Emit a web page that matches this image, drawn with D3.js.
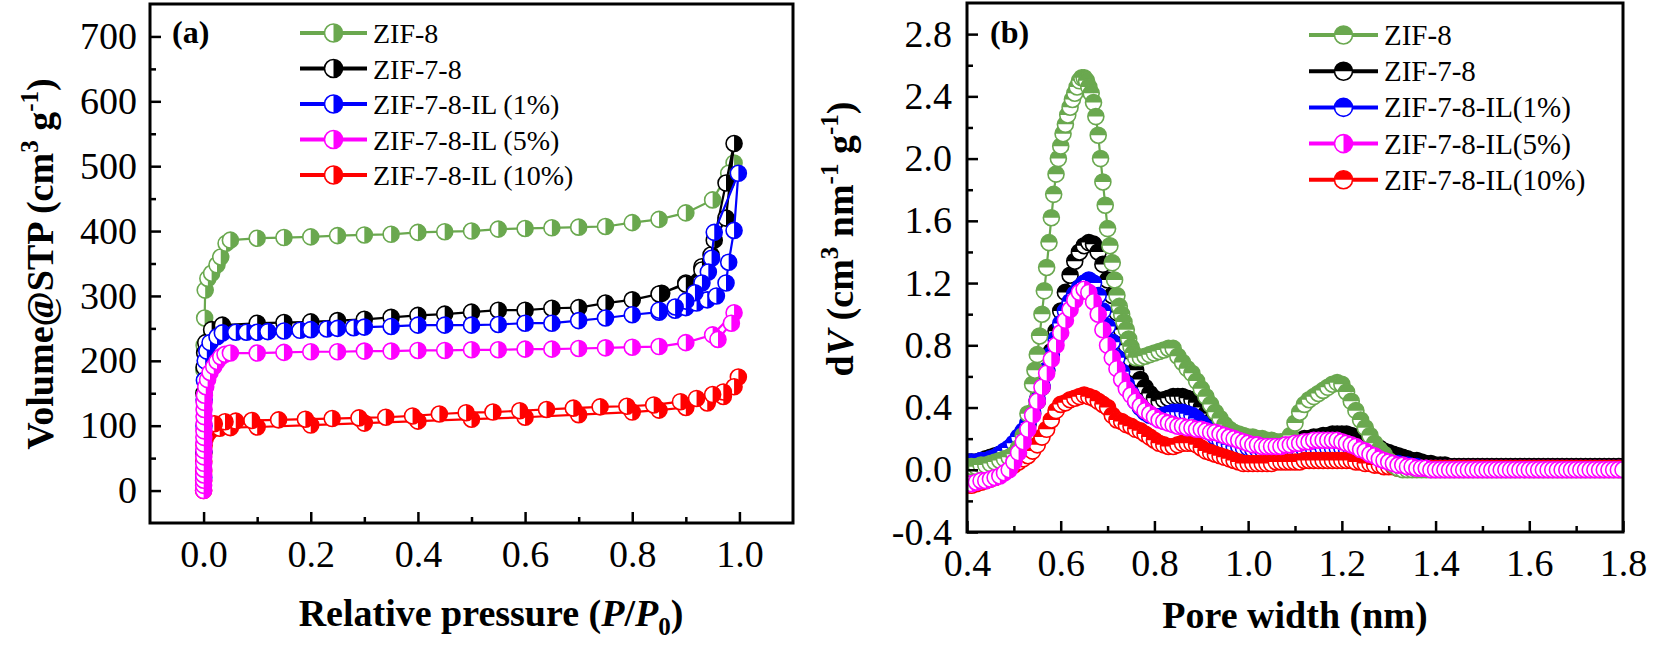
<!DOCTYPE html>
<html><head><meta charset="utf-8">
<script src="https://cdn.jsdelivr.net/npm/d3@7"></script>
<style>body{margin:0;background:#fff}svg text{font-family:"Liberation Serif","Times New Roman",serif;fill:#000}</style>
</head><body><svg id="c" width="1654" height="647"></svg>
<script>
// ---------------- DATA ----------------
const namesA = ["ZIF-8","ZIF-7-8","ZIF-7-8-IL (1%)","ZIF-7-8-IL (5%)","ZIF-7-8-IL (10%)"];
const namesB = ["ZIF-8","ZIF-7-8","ZIF-7-8-IL(1%)","ZIF-7-8-IL(5%)","ZIF-7-8-IL(10%)"];
const colors = ["#6aa84f","#000000","#0000ff","#ff00ff","#ff0000"];

const xTicksA = [0,0.2,0.4,0.6,0.8,1.0], xMinorA = [0.1,0.3,0.5,0.7,0.9];
const yTicksA = [0,100,200,300,400,500,600,700], yMinorA = [50,150,250,350,450,550,650];
const xTicksB = [0.4,0.6,0.8,1.0,1.2,1.4,1.6,1.8], xMinorB = [0.5,0.7,0.9,1.1,1.3,1.5,1.7];
const yTicksB = [-0.4,0,0.4,0.8,1.2,1.6,2.0,2.4,2.8], yMinorB = [-0.2,0.2,0.6,1.0,1.4,1.8,2.2,2.6];

// (a) N2 isotherms [P/P0, volume]
const isoZIF8 = [[0.0005,186],[0.001,224],[0.002,266],[0.003,309],[0.008,327],[0.015,335],[0.025,348],[0.032,360],[0.042,381],[0.05,386],[0.10,389],[0.15,390],[0.20,391],[0.25,393],[0.30,394],[0.35,395],[0.40,398],[0.45,399],[0.50,400],[0.55,403],[0.60,404],[0.65,405],[0.70,406],[0.75,407],[0.80,413],[0.85,418],[0.90,428],[0.95,448],[0.99,505],[0.98,489]];
const isoZIF78 = [[0.0005,150],[0.001,190],[0.002,212],[0.004,228],[0.015,248],[0.035,255],[0.10,258],[0.15,259],[0.20,260],[0.25,262],[0.30,264],[0.35,267],[0.40,270],[0.45,272],[0.50,275],[0.55,278],[0.60,278],[0.65,281],[0.70,282],[0.75,289],[0.80,294],[0.855,304],[0.90,320],[0.93,345],[0.947,363],[0.975,474],[0.99,535],[0.975,420],[0.953,386],[0.93,340],[0.90,318],[0.85,303]];
const isoIL1 = [[0.0003,20],[0.0005,60],[0.0008,100],[0.001,140],[0.0015,170],[0.003,200],[0.006,215],[0.012,228],[0.025,237],[0.035,243],[0.06,244],[0.08,244],[0.10,244],[0.12,245],[0.15,246],[0.18,247],[0.20,248],[0.23,249],[0.25,250],[0.28,251],[0.30,252],[0.35,253],[0.40,255],[0.45,255],[0.50,255],[0.55,256],[0.60,258],[0.65,258],[0.70,262],[0.75,266],[0.80,271],[0.85,275],[0.88,278],[0.90,282],[0.92,289],[0.94,294],[0.957,300],[0.975,320],[0.98,352],[0.99,401],[0.998,489],[0.953,398],[0.948,358],[0.942,337],[0.93,320],[0.917,305],[0.90,292],[0.88,283],[0.85,278]];
const isoIL5 = [[0.00005,0],[0.0001,8],[0.00015,16],[0.0002,24],[0.00025,33],[0.0003,42],[0.00035,52],[0.0004,62],[0.00045,72],[0.0005,82],[0.0006,92],[0.0007,103],[0.0008,114],[0.0009,125],[0.001,136],[0.0015,147],[0.004,160],[0.0075,171],[0.012,182],[0.019,191],[0.025,199],[0.032,206],[0.04,210],[0.05,212],[0.10,212],[0.15,213],[0.20,214],[0.25,214],[0.30,215],[0.35,215],[0.40,216],[0.45,216],[0.50,217],[0.55,217],[0.60,218],[0.65,218],[0.70,219],[0.75,220],[0.80,221],[0.85,222],[0.90,228],[0.95,240],[0.99,274],[0.985,258],[0.96,233]];
const isoIL10 = [[0.00005,0],[0.0001,15],[0.0002,30],[0.0003,45],[0.0005,58],[0.001,70],[0.003,80],[0.008,88],[0.015,94],[0.03,96],[0.05,97],[0.10,98],[0.20,101],[0.30,104],[0.40,107],[0.50,110],[0.60,113],[0.70,117],[0.80,121],[0.85,124],[0.90,128],[0.94,135],[0.97,145],[0.998,175],[0.99,160],[0.97,152],[0.95,148],[0.92,142],[0.89,137],[0.84,132],[0.79,130],[0.74,129],[0.69,127],[0.64,125],[0.59,123],[0.54,121],[0.49,120],[0.44,118],[0.39,115],[0.34,113],[0.29,112],[0.24,111],[0.19,110],[0.14,109],[0.09,108],[0.06,107],[0.04,106],[0.02,103]];

// (b) pore size distributions
const poreWidth = d3.range(141).map(i => +(0.40 + i * 0.01).toFixed(2));
const psdZIF8 = [[0.40,0.02],[0.41,0.02],[0.42,0.02],[0.43,0.03],[0.44,0.03],[0.45,0.04],[0.46,0.05],[0.47,0.06],[0.48,0.07],[0.49,0.08],[0.50,0.10],[0.51,0.14],[0.52,0.22],[0.53,0.36],
 [0.540,0.55],[0.545,0.64],[0.550,0.74],[0.555,0.86],[0.560,1.00],[0.565,1.15],[0.570,1.30],[0.575,1.46],[0.580,1.62],[0.585,1.77],[0.590,1.90],[0.595,2.00],[0.600,2.08],[0.605,2.16],[0.610,2.22],[0.615,2.28],[0.620,2.33],[0.625,2.38],[0.630,2.42],[0.635,2.46],[0.640,2.50],[0.645,2.52],[0.650,2.52],[0.655,2.50],[0.660,2.46],[0.665,2.42],[0.670,2.36],[0.675,2.27],[0.680,2.15],[0.685,2.00],[0.690,1.85],[0.695,1.70],[0.700,1.55],[0.705,1.44],[0.710,1.33],[0.715,1.22],[0.720,1.12],[0.725,1.05],[0.730,1.00],[0.735,0.95],[0.740,0.90],[0.745,0.84],[0.750,0.79],[0.755,0.75],[0.760,0.72],
 [0.77,0.72],[0.78,0.73],[0.79,0.74],[0.80,0.75],[0.81,0.76],[0.82,0.77],[0.83,0.78],[0.84,0.78],[0.85,0.73],[0.86,0.69],[0.87,0.65],[0.88,0.62],[0.89,0.57],[0.90,0.52],[0.91,0.47],[0.92,0.42],[0.93,0.37],[0.94,0.33],[0.95,0.29],[0.96,0.26],[0.97,0.24],[0.98,0.23],[0.99,0.22],[1.00,0.21],[1.01,0.21],[1.02,0.20],[1.03,0.20],[1.04,0.19],[1.05,0.19],[1.06,0.18],[1.07,0.18],[1.08,0.18],[1.09,0.22],[1.10,0.30],[1.11,0.37],[1.12,0.42],[1.13,0.45],[1.14,0.47],[1.15,0.49],[1.16,0.51],[1.17,0.53],[1.18,0.55],[1.19,0.56],[1.20,0.55],[1.21,0.50],[1.22,0.44],[1.23,0.38],[1.24,0.32],[1.25,0.27],[1.26,0.22],[1.27,0.17],[1.28,0.13],[1.29,0.10],[1.30,0.06],[1.31,0.03],[1.32,0.01],
 [1.33,0],[1.34,0],[1.35,0],[1.36,0],[1.37,0],[1.38,0],[1.39,0],[1.40,0],[1.41,0],[1.42,0],[1.43,0],[1.44,0],[1.45,0],[1.46,0],[1.47,0],[1.48,0],[1.49,0],[1.50,0],[1.51,0],[1.52,0],[1.53,0],[1.54,0],[1.55,0],[1.56,0],[1.57,0],[1.58,0],[1.59,0],[1.60,0],[1.61,0],[1.62,0],[1.63,0],[1.64,0],[1.65,0],[1.66,0],[1.67,0],[1.68,0],[1.69,0],[1.70,0],[1.71,0],[1.72,0],[1.73,0],[1.74,0],[1.75,0],[1.76,0],[1.77,0],[1.78,0],[1.79,0],[1.80,0]];
const psdZIF78 = [0.05,0.05,0.05,0.06,0.07,0.08,0.09,0.10,0.11,0.12,0.14,0.18,0.23,0.29,0.36,0.44,0.53,0.64,0.76,0.89,
 1.02,1.14,1.25,1.34,1.40,1.44,1.46,1.45,1.40,1.32,1.22,1.12,1.01,0.90,0.80,0.71,0.64,0.58,0.53,0.49,
 0.46,0.44,0.45,0.46,0.47,0.47,0.47,0.46,0.45,0.43,0.40,0.36,0.31,0.27,0.24,0.22,0.21,0.20,0.19,0.19,
 0.18,0.18,0.18,0.18,0.17,0.17,0.17,0.17,0.18,0.18,0.19,0.19,0.20,0.20,0.21,0.21,0.22,0.22,0.23,0.23,
 0.23,0.23,0.22,0.21,0.20,0.18,0.17,0.15,0.14,0.12,0.11,0.10,0.09,0.08,0.07,0.06,0.06,0.05,0.04,0.04,
 0.03,0.03,0.03,0.02,0.02,0.02,0.02,0.02,0.02,0.02,0.02,0.02,0.02,0.02,0.02,0.02,0.02,0.02,0.02,0.02,
 0.02,0.02,0.02,0.02,0.02,0.02,0.02,0.02,0.02,0.02,0.02,0.02,0.02,0.02,0.02,0.02,0.02,0.02,0.02,0.02,0.02];
const psdIL1 = [0.05,0.05,0.05,0.06,0.06,0.07,0.08,0.10,0.12,0.14,0.17,0.21,0.25,0.30,0.37,0.45,0.54,0.64,0.74,0.84,
 0.94,1.02,1.08,1.13,1.17,1.20,1.22,1.20,1.12,1.02,0.92,0.82,0.72,0.63,0.55,0.49,0.44,0.40,0.37,0.35,
 0.34,0.34,0.35,0.36,0.37,0.37,0.37,0.36,0.35,0.33,0.30,0.27,0.24,0.21,0.19,0.17,0.16,0.15,0.15,0.14,
 0.14,0.13,0.13,0.13,0.13,0.12,0.12,0.12,0.12,0.12,0.12,0.12,0.13,0.13,0.13,0.13,0.14,0.14,0.14,0.14,
 0.14,0.13,0.13,0.12,0.11,0.10,0.09,0.08,0.07,0.06,0.05,0.04,0.04,0.03,0.03,0.02,0.02,0.01,0.01,0.01,
 0.01,0.01,0.01,0.01,0.01,0.01,0.01,0.01,0.01,0.01,0.01,0.01,0.01,0.01,0.01,0.01,0.01,0.01,0.01,0.01,
 0.01,0.01,0.01,0.01,0.01,0.01,0.01,0.01,0.01,0.01,0.01,0.01,0.01,0.01,0.01,0.01,0.01,0.01,0.01,0.01,0.01];
const psdIL5 = [-0.09,-0.09,-0.08,-0.07,-0.07,-0.06,-0.05,-0.04,-0.02,0.00,0.05,0.11,0.18,0.26,0.35,0.44,0.53,0.62,0.71,0.80,
 0.88,0.96,1.03,1.09,1.14,1.16,1.14,1.08,1.00,0.90,0.80,0.72,0.65,0.58,0.52,0.48,0.44,0.41,0.38,0.36,
 0.34,0.32,0.31,0.30,0.29,0.28,0.28,0.27,0.27,0.26,0.26,0.25,0.24,0.24,0.23,0.22,0.21,0.20,0.19,0.18,
 0.17,0.16,0.16,0.15,0.15,0.15,0.15,0.15,0.16,0.16,0.17,0.17,0.18,0.18,0.19,0.19,0.19,0.19,0.19,0.19,
 0.18,0.17,0.16,0.15,0.13,0.12,0.10,0.09,0.07,0.06,0.05,0.04,0.03,0.03,0.02,0.02,0.01,0.01,0.01,0.00,
 0.00,0.00,0.00,0.00,0.00,0.00,0.00,0.00,0.00,0.00,0.00,0.00,0.00,0.00,0.00,0.00,0.00,0.00,0.00,0.00,
 0.00,0.00,0.00,0.00,0.00,0.00,0.00,0.00,0.00,0.00,0.00,0.00,0.00,0.00,0.00,0.00,0.00,0.00,0.00,0.00,0.00];
const psdIL10 = [-0.10,-0.10,-0.09,-0.08,-0.07,-0.06,-0.05,-0.03,-0.01,0.01,0.03,0.05,0.07,0.09,0.12,0.16,0.21,0.26,0.32,0.38,
 0.42,0.43,0.45,0.46,0.47,0.48,0.47,0.46,0.44,0.42,0.40,0.35,0.32,0.31,0.29,0.28,0.26,0.25,0.23,0.21,
 0.19,0.17,0.16,0.15,0.15,0.16,0.17,0.17,0.17,0.16,0.14,0.12,0.11,0.10,0.09,0.08,0.07,0.06,0.05,0.04,
 0.04,0.04,0.04,0.04,0.04,0.04,0.05,0.05,0.05,0.05,0.05,0.05,0.06,0.06,0.06,0.06,0.06,0.06,0.06,0.06,
 0.06,0.06,0.06,0.05,0.05,0.04,0.04,0.03,0.03,0.02,0.02,0.02,0.01,0.01,0.01,0.01,0.01,0.01,0.01,0.01,
 0.01,0.01,0.01,0.01,0.01,0.01,0.01,0.01,0.01,0.01,0.01,0.01,0.01,0.01,0.01,0.01,0.01,0.01,0.01,0.01,
 0.01,0.01,0.01,0.01,0.01,0.01,0.01,0.01,0.01,0.01,0.01,0.01,0.01,0.01,0.01,0.01,0.01,0.01,0.01,0.01,0.01];

// ---------------- DRAWING ----------------
const svg = d3.select("#c");
const R = 8;
function halfPath(r, side) {
  return side === "right" ? `M0,${-r}A${r},${r} 0 0 1 0,${r}Z` : `M${-r},0A${r},${r} 0 0 1 ${r},0Z`;
}
function marker(sel, color, side, r) {
  sel.append("circle").attr("r", r).attr("fill", "#fff");
  sel.append("path").attr("d", halfPath(r, side)).attr("fill", color);
  sel.append("circle").attr("r", r).attr("fill", "none").attr("stroke", color).attr("stroke-width", 1.6);
}
function drawSeries(g, pts, xs, ys, color, side) {
  const line = d3.line().x(d => xs(d[0])).y(d => ys(d[1]));
  g.append("path").attr("d", line(pts)).attr("fill", "none").attr("stroke", color).attr("stroke-width", 2.2);
  g.selectAll(null).data(pts).join("g")
    .attr("transform", d => `translate(${xs(d[0])},${ys(d[1])})`)
    .each(function () { marker(d3.select(this), color, side, R); });
}
function frame(g, xs, ys, xT, xM, yT, yM, fmtX, fmtY, padY) {
  const [x0, x1] = xs.range(), [y0, y1] = ys.range();
  g.append("g").attr("transform", `translate(0,${y0})`)
    .call(d3.axisBottom(xs).tickValues(xM).tickSize(-6).tickFormat(""));
  g.append("g").attr("transform", `translate(0,${y0})`)
    .call(d3.axisBottom(xs).tickValues(xT).tickSize(-11).tickPadding(17).tickFormat(fmtX));
  g.append("g").attr("transform", `translate(${x0},0)`)
    .call(d3.axisLeft(ys).tickValues(yM).tickSize(-6).tickFormat(""));
  g.append("g").attr("transform", `translate(${x0},0)`)
    .call(d3.axisLeft(ys).tickValues(yT).tickSize(-11).tickPadding(padY).tickFormat(fmtY));
  g.selectAll(".domain").remove();
  g.selectAll(".tick line").attr("stroke", "#000").attr("stroke-width", 2.5);
  g.selectAll(".tick text").attr("font-size", 38).attr("font-family", '"Liberation Serif",serif').attr("fill", "#000");
  g.append("rect").attr("x", x0).attr("y", y1).attr("width", x1 - x0).attr("height", y0 - y1)
    .attr("fill", "none").attr("stroke", "#000").attr("stroke-width", 3);
}
function legend(g, names, x1, x2, tx, y0, dy, sides, fs) {
  names.forEach((n, i) => {
    const y = y0 + i * dy;
    g.append("line").attr("x1", x1).attr("x2", x2).attr("y1", y).attr("y2", y)
      .attr("stroke", colors[i]).attr("stroke-width", 4);
    marker(g.append("g").attr("transform", `translate(${(x1 + x2) / 2},${y})`), colors[i], sides[i], 9);
    g.append("text").attr("x", tx).attr("y", y + 10).attr("font-size", fs).text(n);
  });
}
const fmt1 = d => d.toFixed(1);

// ---- Panel (a)
const xa = d3.scaleLinear().domain([-0.1, 1.1]).range([150, 793]);
const ya = d3.scaleLinear().domain([-50, 750]).range([523, 4]);
const ga = svg.append("g");
ga.append("clipPath").attr("id", "clipA").append("rect").attr("x", 150).attr("y", 4).attr("width", 643).attr("height", 519);
const gaData = ga.append("g").attr("clip-path", "url(#clipA)");
const seriesA = [isoZIF8, isoZIF78, isoIL1, isoIL5, isoIL10];
[0, 1, 4, 2, 3].forEach(i => drawSeries(gaData.append("g"), seriesA[i], xa, ya, colors[i], "right"));
frame(ga, xa, ya, xTicksA, xMinorA, yTicksA, yMinorA, fmt1, d => d, 13);
legend(ga, namesA, 300, 367, 373, 33, 35.5, ["right","right","right","right","right"], 28);
ga.append("text").attr("x", 172).attr("y", 43).attr("font-size", 32).attr("font-weight", "bold").text("(a)");
// axis titles (a)
const xtA = ga.append("text").attr("x", 491).attr("y", 626).attr("text-anchor", "middle").attr("font-size", 38).attr("font-weight", "bold");
xtA.append("tspan").text("Relative pressure (");
xtA.append("tspan").attr("font-style", "italic").text("P");
xtA.append("tspan").text("/");
xtA.append("tspan").attr("font-style", "italic").text("P");
xtA.append("tspan").attr("font-size", 25).attr("dy", 9).text("0");
xtA.append("tspan").attr("dy", -9).text(")");
const ytA = ga.append("text").attr("transform", "translate(53,264) rotate(-90)").attr("text-anchor", "middle").attr("font-size", 38).attr("font-weight", "bold");
ytA.append("tspan").text("Volume@STP (cm");
ytA.append("tspan").attr("font-size", 25).attr("dy", -15).text("3");
ytA.append("tspan").attr("dy", 15).text(" g");
ytA.append("tspan").attr("font-size", 25).attr("dy", -15).text("-1");
ytA.append("tspan").attr("dy", 15).text(")");

// ---- Panel (b)
const xb = d3.scaleLinear().domain([0.4, 1.8]).range([967, 1623]);
const yb = d3.scaleLinear().domain([-0.4, 3.0]).range([532, 3]);
const gb = svg.append("g");
gb.append("clipPath").attr("id", "clipB").append("rect").attr("x", 967).attr("y", 4).attr("width", 656).attr("height", 528);
const gbData = gb.append("g").attr("clip-path", "url(#clipB)");
const zip = vals => poreWidth.map((w, i) => [w, vals[i]]);
const seriesB = [psdZIF8, zip(psdZIF78), zip(psdIL1), zip(psdIL5), zip(psdIL10)];
const sidesB = ["top", "top", "top", "right", "top"];
[1, 2, 4, 0, 3].forEach(i => drawSeries(gbData.append("g"), seriesB[i], xb, yb, colors[i], sidesB[i]));
frame(gb, xb, yb, xTicksB, xMinorB, yTicksB, yMinorB, fmt1, fmt1, 15);
legend(gb, namesB, 1309, 1378, 1384, 35, 36.2, sidesB, 29);
gb.append("text").attr("x", 990).attr("y", 43).attr("font-size", 32).attr("font-weight", "bold").text("(b)");
const xtB = gb.append("text").attr("x", 1295).attr("y", 628).attr("text-anchor", "middle").attr("font-size", 38).attr("font-weight", "bold").text("Pore width (nm)");
const ytB = gb.append("text").attr("transform", "translate(853,239) rotate(-90)").attr("text-anchor", "middle").attr("font-size", 38).attr("font-weight", "bold");
ytB.append("tspan").text("d");
ytB.append("tspan").attr("font-style", "italic").text("V");
ytB.append("tspan").text(" (cm");
ytB.append("tspan").attr("font-size", 25).attr("dy", -15).text("3");
ytB.append("tspan").attr("dy", 15).text(" nm");
ytB.append("tspan").attr("font-size", 25).attr("dy", -15).text("-1");
ytB.append("tspan").attr("dy", 15).text(" g");
ytB.append("tspan").attr("font-size", 25).attr("dy", -15).text("-1");
ytB.append("tspan").attr("dy", 15).text(")");
</script></body></html>
